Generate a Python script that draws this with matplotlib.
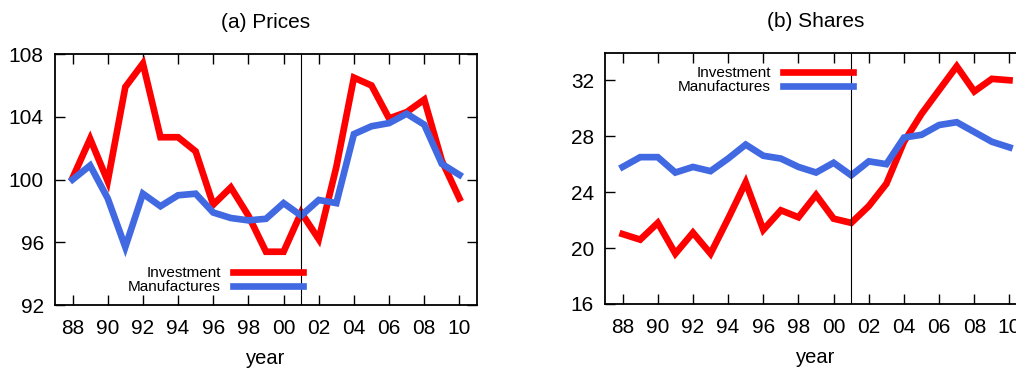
import matplotlib
matplotlib.use("Agg")
import matplotlib.pyplot as plt

plt.rcParams["font.family"] = ["Liberation Sans", "DejaVu Sans"]

years = list(range(1988, 2011))
year_labels = ["%02d" % (y % 100) for y in range(1988, 2011, 2)]

# (a) Prices
price_invest = [100.1, 102.6, 99.9, 105.9, 107.4, 102.7, 102.7, 101.8, 98.4, 99.5, 97.7,
                95.4, 95.4, 97.9, 96.2, 100.8, 106.5, 106.0, 103.9, 104.3, 105.1, 101.2, 98.8]
price_manuf = [100.0, 100.9, 98.8, 95.7, 99.1, 98.3, 99.0, 99.1, 97.9, 97.55, 97.4,
               97.5, 98.5, 97.7, 98.7, 98.5, 102.9, 103.4, 103.6, 104.2, 103.5, 101.0, 100.3]

# (b) Shares
share_invest = [21.0, 20.6, 21.8, 19.6, 21.1, 19.6, 22.1, 24.7, 21.3, 22.7, 22.2,
                23.8, 22.1, 21.8, 23.0, 24.6, 27.6, 29.6, 31.3, 33.0, 31.2, 32.1, 32.0]
share_manuf = [25.8, 26.5, 26.5, 25.4, 25.8, 25.5, 26.4, 27.4, 26.6, 26.4, 25.8,
               25.4, 26.1, 25.2, 26.2, 26.0, 27.9, 28.1, 28.8, 29.0, 28.3, 27.6, 27.2]

RED = "#ff0000"
BLUE = "#4169e1"
BREAK = 2001

fig = plt.figure(figsize=(10.16, 3.68), dpi=100)
ax1 = fig.add_axes([0.0541, 0.171, 0.4154, 0.682])
ax2 = fig.add_axes([0.5955, 0.174, 0.4154, 0.682])

panels = [
    (ax1, "(a) Prices", price_invest, price_manuf, (92, 108), [92, 96, 100, 104, 108], (0.614, 0.0)),
    (ax2, "(b) Shares", share_invest, share_manuf, (16, 33.95), [16, 20, 24, 28, 32], (0.614, 0.99)),
]

for ax, title, inv, man, ylim, yt, anchor in panels:
    ax.plot(years, inv, color=RED, lw=4.8, label="Investment", solid_joinstyle="miter")
    ax.plot(years, man, color=BLUE, lw=4.8, label="Manufactures", solid_joinstyle="miter")
    ax.axvline(BREAK, color="black", lw=0.8)
    ax.set_xlim(1987, 2011)
    ax.set_ylim(*ylim)
    ax.set_yticks(yt)
    ax.set_yticklabels([str(v) for v in yt])
    ax.set_xticks(range(1988, 2011, 2))
    ax.set_xticklabels(year_labels)
    ax.tick_params(direction="in", length=7, width=1.0, top=True, right=True,
                   labelsize=15, pad=8)
    ax.tick_params(axis="x", pad=10)
    for s in ax.spines.values():
        s.set_linewidth(1.3)
    ax.set_title(title, fontsize=15, pad=19)
    ax.set_xlabel("year", fontsize=14.5, labelpad=8)
    ax.legend(loc="lower right" if anchor[1] < 0.5 else "upper right",
              bbox_to_anchor=anchor, frameon=False, markerfirst=False,
              fontsize=11, handlelength=4.6, handletextpad=0.8,
              labelspacing=0.0, borderpad=0.2)

fig.savefig("out.png", dpi=100)
